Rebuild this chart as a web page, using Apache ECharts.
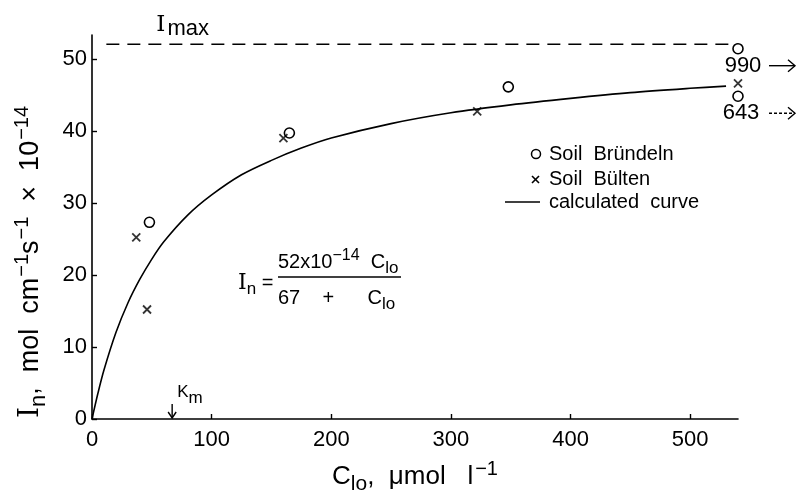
<!DOCTYPE html>
<html>
<head>
<meta charset="utf-8">
<script src="https://cdn.jsdelivr.net/npm/echarts@6/dist/echarts.min.js"></script>
<style>
html, body { margin: 0; background: #fff; }
#main { width: 798px; height: 496px; }
</style>
</head>
<body>
<div id="main"></div>
<script>
// Soil Bründeln (circles) and Soil Bülten (crosses), C_lo in µmol/l, I_n in 1e-14 mol cm^-1 s^-1
var bruendeln = [[48, 27.3], [165, 39.7], [348, 46.1], [540, 51.4], [540, 44.8]];
var buelten = [[37, 25.2], [46, 15.2], [160, 39.0], [322, 42.7], [540, 46.6]];
// calculated curve
var curveC = [0, 5, 10, 20, 30, 40, 50, 60, 80, 100, 125, 150, 175, 200, 250, 300, 350, 400, 450, 500, 530];
var curveI = [0, 3.6, 6.8, 12.0, 16.1, 19.4, 22.2, 24.6, 28.3, 31.1, 33.9, 35.9, 37.6, 39.0, 41.0, 42.5, 43.6, 44.5, 45.3, 45.9, 46.2];
var imaxLine = [[12, 52], [540, 52]];
var kmValue = 67;
var xTicks = [0, 100, 200, 300, 400, 500];
var yTicks = [0, 10, 20, 30, 40, 50];

var font = 'Liberation Sans';
var chart = echarts.init(document.getElementById('main'));

var curve = curveC.map(function (c, i) { return [c, curveI[i]]; });
var crossPath = 'path://M0,0L10,10M10,0L0,10';

var option = {
  animation: false,
  textStyle: { fontFamily: font, color: '#000' },
  grid: { left: 92, right: 60, top: 35, bottom: 77, containLabel: false, outerBoundsMode: 'none' },
  xAxis: {
    type: 'value', min: 0, max: 540, interval: 100,
    axisLine: { lineStyle: { color: '#000', width: 1.6 } },
    axisTick: { inside: true, length: 5, lineStyle: { color: '#000', width: 1.4 } },
    axisLabel: { fontSize: 22, margin: 10, color: '#000', fontFamily: font, showMaxLabel: false,
      formatter: function (v) { return xTicks.indexOf(v) >= 0 ? String(v) : ''; } },
    splitLine: { show: false },
    name: '{t|C}{sub|lo}{t|,  μmol   l}{sup|−1}',
    nameLocation: 'middle', nameGap: 40,
    nameTextStyle: {
      rich: {
        t: { fontSize: 26, fontFamily: font, color: '#000' },
        sub: { fontSize: 21, fontFamily: font, color: '#000', padding: [14, 0, 0, 0] },
        sup: { fontSize: 20, fontFamily: font, color: '#000', padding: [0, 0, 16, 2] }
      }
    }
  },
  yAxis: {
    type: 'value', min: 0, max: 53.3, interval: 10,
    axisLine: { show: true, lineStyle: { color: '#000', width: 1.6 } },
    axisTick: { show: true, inside: true, length: 5, lineStyle: { color: '#000', width: 1.4 } },
    axisLabel: { fontSize: 22, margin: 5, color: '#000', fontFamily: font, showMaxLabel: false,
      formatter: function (v) { return yTicks.indexOf(v) >= 0 ? String(v) : ''; } },
    splitLine: { show: false }
  },
  series: [
    {
      name: 'calculated curve', type: 'line', data: curve, smooth: 0.3,
      symbol: 'none', lineStyle: { color: '#000', width: 1.6 }, z: 2
    },
    {
      name: 'Imax', type: 'line', data: imaxLine, symbol: 'none',
      lineStyle: { color: '#000', width: 1.5, type: [13, 8] }
    },
    {
      name: 'Soil Bründeln', type: 'scatter', data: bruendeln,
      symbol: 'circle', symbolSize: 10,
      itemStyle: { color: '#fff', borderColor: '#000', borderWidth: 1.6, opacity: 1 }, z: 3
    },
    {
      name: 'Soil Bülten', type: 'scatter', data: buelten,
      symbol: crossPath, symbolSize: 8,
      itemStyle: { color: 'none', borderColor: '#000', borderWidth: 1.8 }, z: 3
    }
  ]
};
chart.setOption(option);

function px(p) { return chart.convertToPixel({ gridIndex: 0 }, p); }

var yRich = {
  t: { fontSize: 27, fontFamily: font, fill: '#000' },
  big: { fontSize: 28, fontFamily: 'DejaVu Serif', fill: '#000' },
  sub: { fontSize: 22, fontFamily: font, fill: '#000', padding: [15, 0, 0, 0] },
  sup: { fontSize: 20, fontFamily: font, fill: '#000', padding: [0, 0, 17, 1] }
};
var fRich = {
  t: { fontSize: 20, fontFamily: font, fill: '#000' },
  big: { fontSize: 22, fontFamily: 'DejaVu Serif', fill: '#000' },
  sub: { fontSize: 17, fontFamily: font, fill: '#000', padding: [12, 0, 0, 0] },
  sup: { fontSize: 16, fontFamily: font, fill: '#000', padding: [0, 0, 13, 0] }
};

var imaxPt = px([12, 52]);
var p990 = px([540, 51.4]);
var p643 = px([540, 44.8]);
var kmTop = px([kmValue, 0]);

function arrow(x1, x2, y, dash) {
  return [
    { type: 'line', shape: { x1: x1, y1: y, x2: x2, y2: y }, style: { stroke: '#000', lineWidth: 1.4, lineDash: dash || null } },
    { type: 'polyline', shape: { points: [[x2 - 7, y - 6], [x2, y], [x2 - 7, y + 6]] }, style: { stroke: '#000', lineWidth: 1.4, fill: null } }
  ];
}

var graphics = [
  // y axis name
  { type: 'text', x: 31, y: 262, rotation: Math.PI / 2, style: {
      text: '{big|I}{sub|n}{t|,  mol  cm}{sup|−1}{t|s}{sup|−1}{t|  ×  10}{sup|−14}',
      rich: yRich, align: 'center', verticalAlign: 'middle' } },
  // I max label
  { type: 'text', x: imaxPt[0] + 50, y: imaxPt[1] - 4, style: {
      text: '{big|I}{t|max}', rich: { big: { fontSize: 23, fontFamily: 'DejaVu Serif', fill: '#000' }, t: { fontSize: 22, fontFamily: font, fill: '#000', padding: [8, 0, 0, 2] } },
      align: 'left', verticalAlign: 'bottom' } },
  // off-scale values
  { type: 'text', x: p990[0] + 5, y: p990[1] + 17, style: { text: '990', fontSize: 22, fontFamily: font, fill: '#000', align: 'center', verticalAlign: 'middle' } },
  { type: 'text', x: p643[0] + 3, y: p643[1] + 17, style: { text: '643', fontSize: 22, fontFamily: font, fill: '#000', align: 'center', verticalAlign: 'middle' } },
  // Km arrow
  { type: 'line', shape: { x1: kmTop[0], y1: kmTop[1] - 15, x2: kmTop[0], y2: kmTop[1] - 1 }, style: { stroke: '#000', lineWidth: 1.4 } },
  { type: 'polyline', shape: { points: [[kmTop[0] - 4, kmTop[1] - 7], [kmTop[0], kmTop[1] - 1], [kmTop[0] + 4, kmTop[1] - 7]] }, style: { stroke: '#000', lineWidth: 1.4, fill: null } },
  { type: 'text', x: kmTop[0] + 5, y: kmTop[1] - 12, style: { text: '{t|K}{sub|m}', rich: { t: { fontSize: 17, fontFamily: font, fill: '#000' }, sub: { fontSize: 17, fontFamily: font, fill: '#000', padding: [12, 0, 0, 0] } }, align: 'left', verticalAlign: 'bottom' } },
  // formula
  { type: 'text', x: 238, y: 283, style: { text: '{big|I}{sub|n}{t| =}', rich: fRich, align: 'left', verticalAlign: 'middle' } },
  { type: 'line', shape: { x1: 278, y1: 277, x2: 401, y2: 277 }, style: { stroke: '#000', lineWidth: 1.4 } },
  { type: 'text', x: 278, y: 262, style: { text: '{t|52x10}{sup|−14}{t|  C}{sub|lo}', rich: fRich, align: 'left', verticalAlign: 'middle' } },
  { type: 'text', x: 278, y: 298, style: { text: '{t|67    +      C}{sub|lo}', rich: fRich, align: 'left', verticalAlign: 'middle' } },
  // legend
  { type: 'circle', shape: { cx: 536, cy: 154, r: 4.5 }, style: { stroke: '#000', lineWidth: 1.5, fill: '#fff' } },
  { type: 'text', x: 549, y: 154, style: { text: 'Soil  Bründeln', fontSize: 20, fontFamily: font, fill: '#000', verticalAlign: 'middle' } },
  { type: 'line', shape: { x1: 532, y1: 176, x2: 539, y2: 183 }, style: { stroke: '#000', lineWidth: 1.6 } },
  { type: 'line', shape: { x1: 539, y1: 176, x2: 532, y2: 183 }, style: { stroke: '#000', lineWidth: 1.6 } },
  { type: 'text', x: 549, y: 179, style: { text: 'Soil  Bülten', fontSize: 20, fontFamily: font, fill: '#000', verticalAlign: 'middle' } },
  { type: 'line', shape: { x1: 505, y1: 202, x2: 540, y2: 202 }, style: { stroke: '#000', lineWidth: 1.5 } },
  { type: 'text', x: 549, y: 202, style: { text: 'calculated  curve', fontSize: 20, fontFamily: font, fill: '#000', verticalAlign: 'middle' } }
].concat(arrow(p990[0] + 31, p990[0] + 57, p990[1] + 17), arrow(p643[0] + 31, p643[0] + 57, p643[1] + 17, [3, 2]));
chart.setOption({ graphic: graphics });
</script>
</body>
</html>
